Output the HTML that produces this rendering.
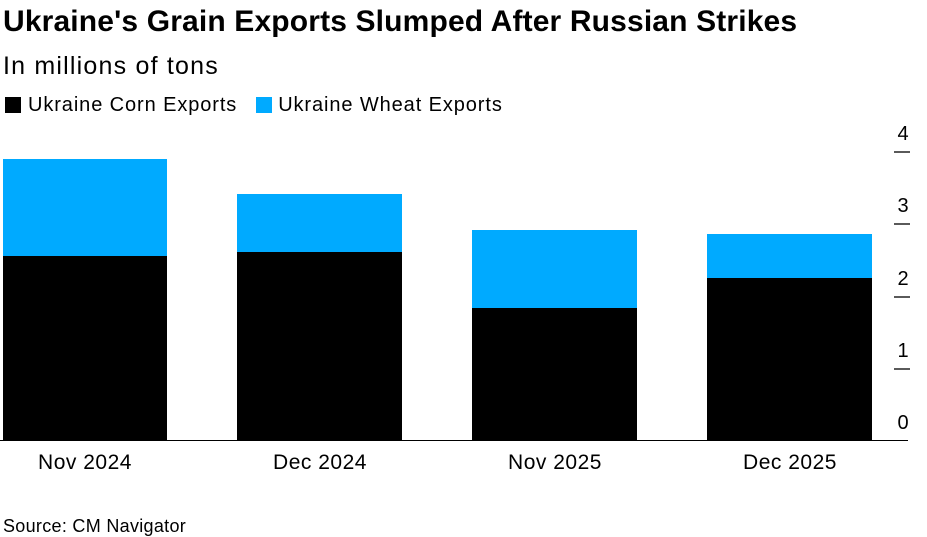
<!DOCTYPE html>
<html><head><style>
body{margin:0;width:927px;height:537px;background:#fff;font-family:"Liberation Sans",sans-serif;position:relative;overflow:hidden;color:#000}
.a{position:absolute;white-space:nowrap}
</style></head><body>
<div class="a" style="left:3px;top:5px;font-size:30px;font-weight:bold;letter-spacing:0.15px">Ukraine's Grain Exports Slumped After Russian Strikes</div>
<div class="a" style="left:3px;top:52px;font-size:25px;letter-spacing:1.2px">In millions of tons</div>
<div class="a" style="left:5px;top:94px;font-size:20px;letter-spacing:0.9px"><span style="display:inline-block;width:16px;height:16px;background:#000;vertical-align:-2px;margin-right:7px"></span>Ukraine Corn Exports<span style="display:inline-block;width:16px;height:16px;background:#00aaff;vertical-align:-2px;margin:0 6px 0 19px"></span>Ukraine Wheat Exports</div>
<svg class="a" style="left:0;top:0" width="927" height="537">
<g fill="#00aaff">
<rect x="3" y="159" width="164" height="98"/>
<rect x="237" y="194" width="165" height="59"/>
<rect x="472" y="230" width="165" height="79"/>
<rect x="707" y="234" width="165" height="45"/>
</g>
<g fill="#000">
<rect x="3" y="256" width="164" height="184"/>
<rect x="237" y="252" width="165" height="188"/>
<rect x="472" y="308" width="165" height="132"/>
<rect x="707" y="278" width="165" height="162"/>
</g>
<line x1="0" y1="440.5" x2="908" y2="440.5" stroke="#000" stroke-width="1"/>
<g stroke="#000" stroke-width="1.3">
<line x1="894" y1="152" x2="910" y2="152"/>
<line x1="894" y1="224" x2="910" y2="224"/>
<line x1="894" y1="297" x2="910" y2="297"/>
<line x1="894" y1="369" x2="910" y2="369"/>
</g>
<g font-size="20" text-anchor="middle" font-family="Liberation Sans, sans-serif">
<text x="903" y="140">4</text>
<text x="903" y="212">3</text>
<text x="903" y="285">2</text>
<text x="903" y="357">1</text>
<text x="903" y="429">0</text>
</g>
<g font-size="21" text-anchor="middle" font-family="Liberation Sans, sans-serif" letter-spacing="0.5">
<text x="85" y="469">Nov 2024</text>
<text x="320" y="469">Dec 2024</text>
<text x="555" y="469">Nov 2025</text>
<text x="790" y="469">Dec 2025</text>
</g>
</svg>
<div class="a" style="left:3px;top:516px;font-size:18px;letter-spacing:0.3px">Source: CM Navigator</div>
</body></html>
